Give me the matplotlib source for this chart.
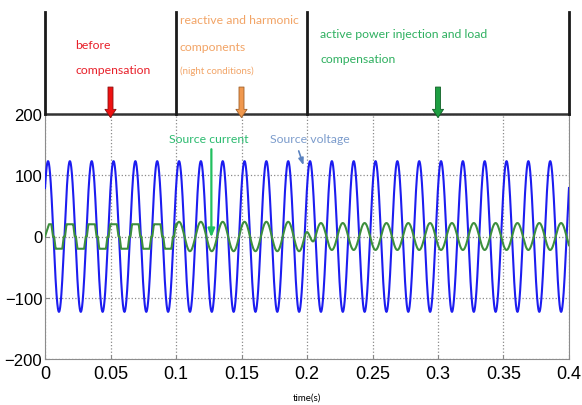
import numpy as np
import matplotlib
matplotlib.use("Agg")
import matplotlib.pyplot as plt

# signal values
f_grid = 60.0            # Hz, 24 cycles in 0.4 s
v_peak = 123.0           # source voltage peak
v_phase_deg = 40.0       # voltage phase at t = 0
stage_edges = [0.0, 0.1, 0.2, 0.4]
i_amp = [20.0, 24.0, 22.0]       # source current amplitude in each stage
i_sign = [1.0, 1.0, -1.0]        # in phase / anti-phase with voltage
flat_deg = 55.0          # stage 1: flat top within +-55 deg of voltage peak
dead_deg = 80.0          # stage 1: zero beyond +-80 deg

xticks = [0, 0.05, 0.1, 0.15, 0.2, 0.25, 0.3, 0.35, 0.4]
xticklabels = ["0", "0.05", "0.1", "0.15", "0.2", "0.25", "0.3", "0.35", "0.4"]
yticks = [-200, -100, 0, 100, 200]

t = np.linspace(0, 0.4, 8001)
th = 2*np.pi*f_grid*t + np.deg2rad(v_phase_deg)
s = np.sin(th)
v = v_peak*s

# stage 1: quasi square current of the nonlinear load
lo, hi = np.cos(np.deg2rad(dead_deg)), np.cos(np.deg2rad(flat_deg))
i1 = i_amp[0]*np.sign(s)*np.clip((np.abs(s)-lo)/(hi-lo), 0, 1)
i1 *= np.clip(t/0.003, 0, 1)
i2 = i_sign[1]*i_amp[1]*s
i3 = i_sign[2]*i_amp[2]*s
w = np.clip((t-0.1975)/0.009, 0, 1)
cur = np.where(t < stage_edges[1], i1, (1-w)*i2 + w*i3)

fig = plt.figure(figsize=(5.82, 4.06), dpi=100)
ax = fig.add_axes([45/582, 46/406, 524/582, 245/406])

ax.plot(t, v, color="#1c1cf0", lw=1.5, zorder=3)
ax.plot(t, cur, color="#3d8f3d", lw=1.5, zorder=4)

ax.set_xlim(0, 0.4)
ax.set_ylim(-200, 200)
ax.set_xticks(xticks)
ax.set_xticklabels(xticklabels)
ax.set_yticks(yticks)
ax.grid(True, linestyle=":", color="#8a8a8a", lw=0.9)
ax.tick_params(axis="x", labelsize=13, pad=4, direction="in", length=3, color="#888888")
ax.tick_params(axis="y", labelsize=12, pad=2, direction="in", length=3, color="#888888")
for lab in ax.get_xticklabels() + ax.get_yticklabels():
    lab.set_family("Liberation Sans")
for side in ["left", "bottom", "right"]:
    ax.spines[side].set_color("#8c8c8c")
ax.spines["top"].set_color("#333333")
ax.spines["top"].set_linewidth(1.8)
ax.set_xlabel("time(s)", fontsize=7, labelpad=8, family="Lato")

# stage separators above the plot
for xs in [0.0, 0.1, 0.2, 0.4]:
    ax.plot([xs, xs], [200, 366], color="#1a1a1a", lw=2, clip_on=False, zorder=5)

fnt = "Lato"
fs = 8.8
ax.text(0.023, 314, "before", color="#e8202a", fontsize=fs, family=fnt, va="center")
ax.text(0.023, 273, "compensation", color="#e8202a", fontsize=fs, family=fnt, va="center")
ax.text(0.103, 355, "reactive and harmonic", color="#f2a466", fontsize=fs, family=fnt, va="center")
ax.text(0.103, 311, "components", color="#f2a466", fontsize=fs, family=fnt, va="center")
ax.text(0.103, 272, "(night conditions)", color="#f2a466", fontsize=7, family=fnt, va="center")
ax.text(0.210, 331, "active power injection and load", color="#2fb060", fontsize=fs, family=fnt, va="center")
ax.text(0.210, 290, "compensation", color="#2fb060", fontsize=fs, family=fnt, va="center")

for xa, fc, ec in [(0.05, "#ee1111", "#8a1010"), (0.15, "#f0984e", "#a0602a"), (0.3, "#1e9e42", "#0f5f25")]:
    ax.annotate("", xy=(xa, 194), xytext=(xa, 244), annotation_clip=False,
                arrowprops=dict(width=3.6, headwidth=8, headlength=6, fc=fc, ec=ec, lw=0.6))

ax.text(0.125, 160, "Source current", color="#2cbb70", fontsize=fs, family=fnt, ha="center", va="center")
ax.annotate("", xy=(0.127, -6), xytext=(0.127, 147),
            arrowprops=dict(arrowstyle="-|>,head_width=0.2,head_length=0.5", color="#22c060", lw=1.6))
ax.text(0.202, 160, "Source voltage", color="#7c9ccc", fontsize=fs, family=fnt, ha="center", va="center")
ax.annotate("", xy=(0.198, 112), xytext=(0.193, 144),
            arrowprops=dict(arrowstyle="-|>,head_width=0.15,head_length=0.4", color="#5a82c0", lw=1.2))

fig.savefig("out.png", dpi=100)
